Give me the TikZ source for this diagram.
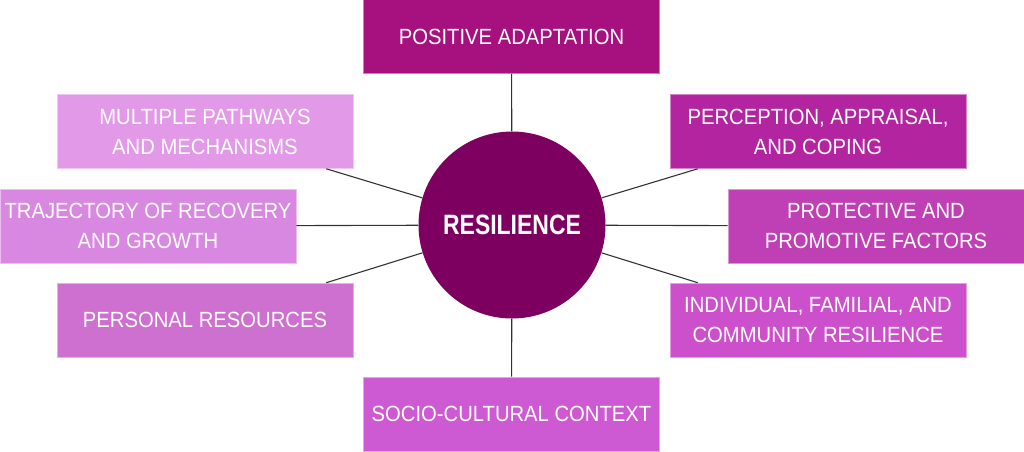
\documentclass[tikz,border=0pt]{standalone}
\usepackage{fontspec}
\setmainfont{Liberation Sans}[FakeStretch=0.92]
\newfontfamily\resfont{Liberation Sans}[FakeStretch=0.82]
\usepackage{xcolor}
\usepackage{tikz}
\usetikzlibrary{positioning}

\definecolor{hubcol}{HTML}{7D0060}
\definecolor{poscol}{HTML}{A7107F}
\definecolor{percol}{HTML}{B224A0}
\definecolor{procol}{HTML}{BE40B4}
\definecolor{indcol}{HTML}{CC50CC}
\definecolor{soccol}{HTML}{CD5AD2}
\definecolor{pencol}{HTML}{CD70D0}
\definecolor{trjcol}{HTML}{D888E0}
\definecolor{mulcol}{HTML}{E29AE8}

\begin{document}
\begin{tikzpicture}[x=1pt,y=-1pt,
  topic/.style={fill=#1, draw=#1!55!white, line width=0.6pt, text=white,
    minimum width=296pt, minimum height=74pt, inner sep=0pt, align=center,
    font=\fontsize{22}{30}\selectfont},
  link/.style={draw=black!80, line width=1.1pt}]

  \useasboundingbox (0,0) rectangle (1024,451);

  % the eight topics
  \node[topic=poscol] (pos) at (511.5,36.5) {POSITIVE ADAPTATION};
  \node[topic=mulcol] (mul) at (205,131.5) {MULTIPLE PATHWAYS\\AND MECHANISMS};
  \node[topic=trjcol] (trj) at (148,226) {TRAJECTORY OF RECOVERY\\AND GROWTH};
  \node[topic=pencol] (per) at (205,320) {PERSONAL RESOURCES};
  \node[topic=soccol] (soc) at (511.5,414) {SOCIO-CULTURAL CONTEXT};
  \node[topic=percol] (app) at (818,131.5) {PERCEPTION, APPRAISAL,\\AND COPING};
  \node[topic=procol] (pro) at (876,226) {PROTECTIVE AND\\PROMOTIVE FACTORS};
  \node[topic=indcol] (ind) at (818,320) {INDIVIDUAL, FAMILIAL, AND\\COMMUNITY RESILIENCE};

  % hub
  \node[circle, fill=hubcol, minimum size=187pt, inner sep=0pt, text=white,
    font=\resfont\bfseries\fontsize{28}{30}\selectfont] (res) at (512,225) {RESILIENCE};

  \coordinate (mulend) at ([xshift=-27pt]mul.south east);
  \coordinate (append) at ([xshift=28pt]app.south west);
  \coordinate (perend) at ([xshift=-27pt]per.north east);
  \coordinate (indend) at ([xshift=28pt]ind.north west);

  % spokes
  \draw[link] (res) -- (pos);
  \draw[link] (res) -- (soc);
  \draw[link] (res) -- (trj);
  \draw[link] (res) -- (pro);
  \draw[link] (res) -- (mulend);
  \draw[link] (res) -- (append);
  \draw[link] (res) -- (perend);
  \draw[link] (res) -- (indend);
\end{tikzpicture}
\end{document}
